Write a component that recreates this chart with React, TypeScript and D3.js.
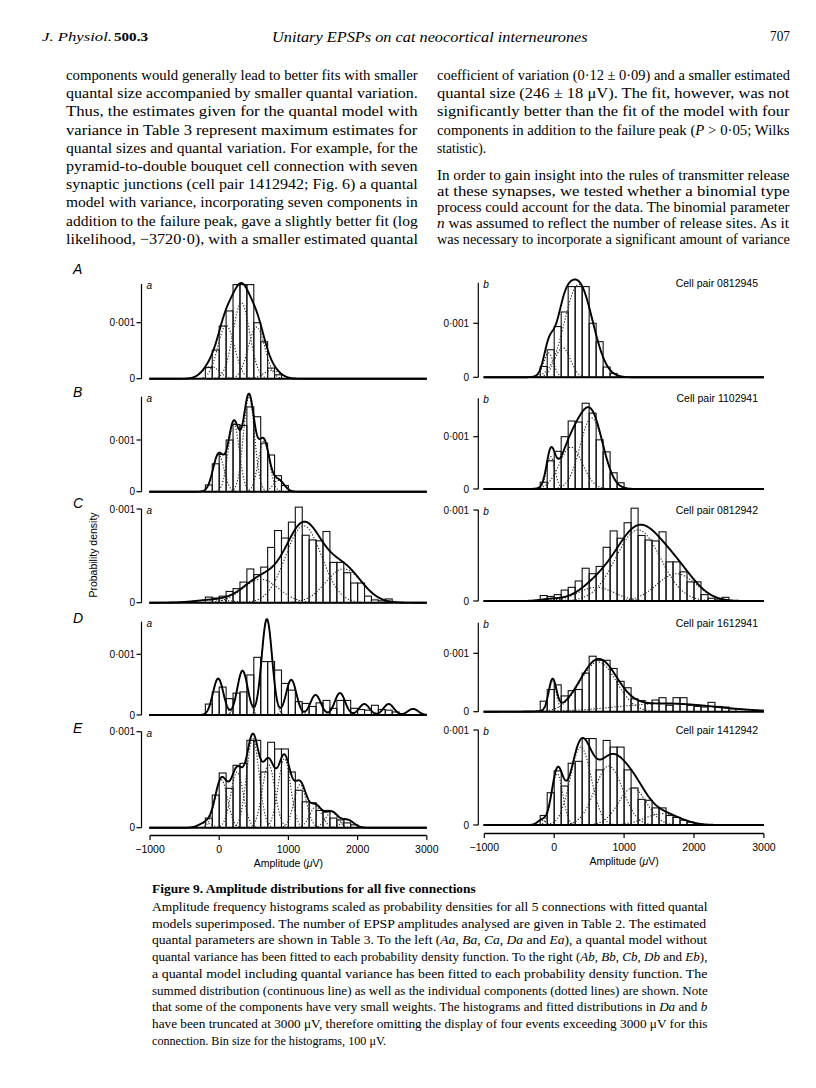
import React from 'react';
import * as d3 from 'd3';

// ---------------- DATA ----------------
const X_DOMAIN = [-1000, 3000];
const X_TICKS = [-1000, 0, 1000, 2000, 3000];
const BIN_WIDTH = 100;

// histogram densities, in units of 0.001 per µV, first bin start given
const HIST_A_START = -200;
const HIST_A = [0.2, 0.51, 0.94, 1.21, 1.68, 1.68, 1.68, 1.0, 0.66, 0.19, 0.07];
const HIST_B_START = -200;
const HIST_B = [0.13, 0.54, 0.72, 1.0, 1.3, 1.28, 1.64, 1.45, 0.94, 0.71, 0.31, 0.12];
const HIST_C_START = -200;
const HIST_C = [0.06, 0.05, 0.07, 0.12, 0.15, 0.22, 0.36, 0.3, 0.38, 0.59, 0.77, 0.69, 0.86, 1.02, 0.72, 0.67, 0.66, 0.76, 0.43, 0.43, 0.32, 0.21, 0.21, 0.07, 0.03, 0.02, 0.04];
const HIST_D_START = -200;
const HIST_D = [0.18, 0.38, 0.46, 0.27, 0.36, 0.38, 0.66, 0.95, 0.88, 0.88, 0.74, 0.52, 0.41, 0.22, 0.19, 0.14, 0.2, 0.24, 0.11, 0.24, 0.24, 0.11, 0.09, 0.08, 0.16, 0.09, 0.08, 0.05];
const HIST_E_START = -200;
const HIST_E = [0.1, 0.34, 0.57, 0.41, 0.65, 0.67, 0.91, 0.91, 0.58, 0.89, 0.82, 0.82, 0.58, 0.39, 0.27, 0.26, 0.18, 0.18, 0.1, 0.08, 0.05, 0.03];

// fitted components: [mean µV, sd µV, weight]
const COMP_AA = [[-120, 120, 0.066], [100, 120, 0.286], [320, 120, 0.409], [540, 120, 0.277], [760, 120, 0.045]];
const COMP_AB = [[-80, 70, 0.079], [120, 110, 0.152], [350, 200, 0.862]];
const COMP_BA = [[-10, 80, 0.144], [210, 80, 0.265], [430, 80, 0.369], [645, 80, 0.196], [860, 80, 0.044]];
const COMP_BB = [[-50, 60, 0.093], [240, 165, 0.331], [535, 165, 0.5625]];
const COMP_CA = [[-80, 260, 0.0196], [600, 260, 0.163], [1220, 260, 0.534], [1800, 260, 0.235]];
const COMP_CB = [[-50, 150, 0.0075], [600, 260, 0.0978], [1200, 320, 0.6257], [1750, 280, 0.2106]];
const COMP_DA = [[-15, 75, 0.113], [337, 75, 0.137], [689, 75, 0.297], [1041, 75, 0.109], [1393, 75, 0.062], [1745, 75, 0.068], [2097, 75, 0.034], [2449, 75, 0.034], [2801, 75, 0.019]];
const COMP_DB = [[-24, 55, 0.0717], [630, 260, 0.554], [1600, 700, 0.2457]];
const COMP_EA = [[-200, 90, 0.0113], [30, 90, 0.1128], [258, 90, 0.1308], [486, 90, 0.2098], [714, 90, 0.1489], [942, 90, 0.1624], [1170, 90, 0.1015], [1398, 90, 0.0496], [1626, 90, 0.0361], [1854, 90, 0.018]];
const COMP_EB = [[-180, 60, 0.0075], [43, 80, 0.1083], [380, 150, 0.3083], [780, 200, 0.3108], [1120, 200, 0.1955], [1550, 250, 0.0752]];

const ROW_LETTERS = ['A', 'B', 'C', 'D', 'E'];
const CELL_PAIRS = ['Cell pair 0812945', 'Cell pair 1102941', 'Cell pair 0812942', 'Cell pair 1612941', 'Cell pair 1412942'];

const LEFT_TEXT = [
  'components would generally lead to better fits with smaller',
  'quantal size accompanied by smaller quantal variation.',
  'Thus, the estimates given for the quantal model with',
  'variance in Table 3 represent maximum estimates for',
  'quantal sizes and quantal variation. For example, for the',
  'pyramid-to-double bouquet cell connection with seven',
  'synaptic junctions (cell pair 1412942; Fig. 6) a quantal',
  'model with variance, incorporating seven components in',
  'addition to the failure peak, gave a slightly better fit (log',
  'likelihood, \u22123720\u00b70), with a smaller estimated quantal',
];
const RIGHT_TEXT_1 = [
  'coefficient of variation (0\u00b712 \u00b1 0\u00b709) and a smaller estimated',
  'quantal size (246 \u00b1 18 \u03bcV). The fit, however, was not',
  'significantly better than the fit of the model with four',
  ['components in addition to the failure peak (', { i: 'P' }, ' > 0\u00b705; Wilks'],
  'statistic).',
];
const RIGHT_TEXT_2 = [
  'In order to gain insight into the rules of transmitter release',
  'at these synapses, we tested whether a binomial type',
  'process could account for the data. The binomial parameter',
  [{ i: 'n' }, ' was assumed to reflect the number of release sites. As it'],
  'was necessary to incorporate a significant amount of variance',
];
const CAPTION_TITLE = 'Figure 9. Amplitude distributions for all five connections';
const CAPTION = [
  'Amplitude frequency histograms scaled as probability densities for all 5 connections with fitted quantal',
  'models superimposed. The number of EPSP amplitudes analysed are given in Table 2. The estimated',
  ['quantal parameters are shown in Table 3. To the left (', { i: 'Aa' }, ', ', { i: 'Ba' }, ', ', { i: 'Ca' }, ', ', { i: 'Da' }, ' and ', { i: 'Ea' }, '), a quantal model without'],
  ['quantal variance has been fitted to each probability density function. To the right (', { i: 'Ab' }, ', ', { i: 'Bb' }, ', ', { i: 'Cb' }, ', ', { i: 'Db' }, ' and ', { i: 'Eb' }, '),'],
  'a quantal model including quantal variance has been fitted to each probability density function. The',
  'summed distribution (continuous line) as well as the individual components (dotted lines) are shown. Note',
  ['that some of the components have very small weights. The histograms and fitted distributions in ', { i: 'Da' }, ' and ', { i: 'b' }],
  'have been truncated at 3000 \u03bcV, therefore omitting the display of four events exceeding 3000 \u03bcV for this',
  'connection. Bin size for the histograms, 100 \u03bcV.',
];

// ---------------- LAYOUT ----------------
const SANS = '"Liberation Sans", Arial, Helvetica, sans-serif';
const SERIF = '"Liberation Serif", "Times New Roman", serif';

const LEFT = { axisX: 141.5, xr: [150, 426.8], labelX: 136 };
const RIGHT = { axisX: 478.3, xr: [484.3, 763.9], labelX: 470 };
const ROWS = [
  { l: { base: 378.7, unit: 56, top: 284 }, r: { base: 377.3, unit: 54, top: 282.7 }, letterY: 274 },
  { l: { base: 491.7, unit: 51.7, top: 396.7 }, r: { base: 489, unit: 52.3, top: 398.3 }, letterY: 397 },
  { l: { base: 602.7, unit: 93.7, top: 509 }, r: { base: 601, unit: 91, top: 510 }, letterY: 508 },
  { l: { base: 715, unit: 60.7, top: 621.7 }, r: { base: 711.7, unit: 58.4, top: 622.7 }, letterY: 623 },
  { l: { base: 827.7, unit: 96, top: 731.7 }, r: { base: 825, unit: 95, top: 730 }, letterY: 733 },
];

const HISTS = [
  [HIST_A_START, HIST_A], [HIST_B_START, HIST_B], [HIST_C_START, HIST_C], [HIST_D_START, HIST_D], [HIST_E_START, HIST_E],
];
const COMPS = [[COMP_AA, COMP_AB], [COMP_BA, COMP_BB], [COMP_CA, COMP_CB], [COMP_DA, COMP_DB], [COMP_EA, COMP_EB]];

const gauss = (x: number, m: number, s: number, w: number) =>
  (w * Math.exp(-0.5 * ((x - m) / s) ** 2)) / (s * Math.sqrt(2 * Math.PI));

let _ctx: CanvasRenderingContext2D | null = null;
function measure(text: string, size: number, italic: boolean, bold: boolean) {
  if (!_ctx) _ctx = document.createElement('canvas').getContext('2d');
  if (!_ctx) return text.length * size * 0.45;
  _ctx.font = `${italic ? 'italic ' : ''}${bold ? 'bold ' : ''}${size}px "Liberation Serif"`;
  return _ctx.measureText(text).width;
}

function Panel({ side, g, hist, comps, sub, cell, bottomAxis }: any) {
  const x = d3.scaleLinear().domain(X_DOMAIN).range(side.xr);
  const y = d3.scaleLinear().domain([0, 0.001]).range([g.base, g.base - g.unit]);
  const xs = d3.range(X_DOMAIN[0], X_DOMAIN[1] + 0.1, 4);
  const sum = xs.map((v) => [v, comps.reduce((a: number, c: number[]) => a + gauss(v, c[0], c[1], c[2]), 0)]);
  const line = d3.line<number[]>().x((d) => x(d[0])).y((d) => y(d[1]));
  const [start, vals] = hist;
  const bw = x(BIN_WIDTH) - x(0);
  const ax = side.axisX;
  return (
    <g>
      {vals.map((v: number, i: number) => (
        <rect key={i} x={x(start + i * BIN_WIDTH)} y={y(v * 0.001)} width={bw} height={g.base - y(v * 0.001)}
          fill="none" stroke="#111" strokeWidth={1.1} />
      ))}
      {comps.map((c: number[], i: number) => {
        const pts = d3.range(Math.max(X_DOMAIN[0], c[0] - 3.2 * c[1]), Math.min(X_DOMAIN[1], c[0] + 3.2 * c[1]), 4)
          .map((v) => [v, gauss(v, c[0], c[1], c[2])]);
        return <path key={i} d={line(pts) || ''} fill="none" stroke="#222" strokeWidth={1.1} strokeDasharray="1.2,1.8" />;
      })}
      <line x1={side.xr[0] - 1} x2={side.xr[1]} y1={g.base} y2={g.base} stroke="#000" strokeWidth={2} />
      <path d={line(sum) || ''} fill="none" stroke="#000" strokeWidth={1.9} strokeLinejoin="round" />
      <line x1={ax} x2={ax} y1={g.base} y2={g.top} stroke="#000" strokeWidth={1.2} />
      <line x1={ax - 5} x2={ax} y1={g.base} y2={g.base} stroke="#000" strokeWidth={1.2} />
      <line x1={ax - 5} x2={ax} y1={y(0.001)} y2={y(0.001)} stroke="#000" strokeWidth={1.2} />
      <text x={side.labelX - 1} y={g.base + 3.5} textAnchor="end" fontFamily={SANS} fontSize={10}>0</text>
      <text x={side.labelX - 1} y={y(0.001) + 3.5} textAnchor="end" fontFamily={SANS} fontSize={10}>0·001</text>
      <text x={ax + 5} y={g.top + 5} fontFamily={SANS} fontSize={10} fontStyle="italic">{sub}</text>
      {cell && <text x={758} y={g.top + 4} textAnchor="end" fontFamily={SANS} fontSize={10.5}>{cell}</text>}
      {bottomAxis && (
        <g>
          <line x1={x(X_DOMAIN[0])} x2={x(X_DOMAIN[1])} y1={bottomAxis} y2={bottomAxis} stroke="#000" strokeWidth={1.3} />
          {X_TICKS.map((t) => (
            <g key={t}>
              <line x1={x(t)} x2={x(t)} y1={bottomAxis} y2={bottomAxis + 4.5} stroke="#000" strokeWidth={1.2} />
              <text x={x(t)} y={bottomAxis + 17} textAnchor="middle" fontFamily={SANS} fontSize={10.5}>
                {t < 0 ? '\u2212' + Math.abs(t) : String(t)}
              </text>
            </g>
          ))}
          <text x={(x(X_DOMAIN[0]) + x(X_DOMAIN[1])) / 2} y={bottomAxis + 31} textAnchor="middle" fontFamily={SANS} fontSize={10.5}>
            Amplitude (<tspan fontStyle="italic">μ</tspan>V)
          </text>
        </g>
      )}
    </g>
  );
}

// one line of page text, condensed horizontally (and justified) with a transform
function Line({ content, x, y, width, size, justify = true, scale = 0.9, bold = false, italic = false, anchor = 'start' }: any) {
  const parts = (Array.isArray(content) ? content : [content]).map((p: any) =>
    typeof p === 'string' ? { t: p, it: italic } : { t: p.i, it: true });
  const natural = parts.reduce((a: number, p: any) => a + measure(p.t, size, p.it, bold), 0);
  const sx = justify ? width / natural : scale;
  const x0 = anchor === 'end' ? x - natural * sx : anchor === 'middle' ? x - (natural * sx) / 2 : x;
  return (
    <text transform={`translate(${x0},${y}) scale(${sx},1)`} fontFamily={SERIF} fontSize={size}
      fontWeight={bold ? 'bold' : 'normal'} style={{ whiteSpace: 'pre' }}>
      {parts.map((p: any, i: number) => (
        <tspan key={i} fontStyle={p.it ? 'italic' : 'normal'}>{p.t}</tspan>
      ))}
    </text>
  );
}

export default function App() {
  return (
    <svg width={816} height={1088} style={{ position: 'absolute', left: 0, top: 0, background: '#fff' }}>
      <rect width={816} height={1088} fill="#fff" />
      {/* header */}
      <Line content={[{ i: 'J. Physiol.' }]} x={42} y={41} width={70} size={12.5} />
      <Line content="500.3" x={114} y={41} width={34} size={12.5} bold />
      <Line content="Unitary EPSPs on cat neocortical interneurones" italic x={272} y={42} width={316} size={15.5} />
      <Line content="707" x={790} y={41} width={23} size={14} anchor="end" justify={false} scale={0.95} />

      {LEFT_TEXT.map((t, i) => <Line key={i} content={t} x={66} y={80 + i * 18.2} width={352} size={15} />)}
      {RIGHT_TEXT_1.map((t, i) => (
        <Line key={i} content={t} x={437} y={80 + i * 18.2} width={353} size={15} justify={i !== 4} />
      ))}
      {RIGHT_TEXT_2.map((t, i) => <Line key={i} content={t} x={437} y={180 + i * 16} width={353} size={15} />)}

      {/* panels */}
      {ROWS.map((row, r) => (
        <g key={r}>
          <text x={73} y={row.letterY} fontFamily={SANS} fontSize={14} fontStyle="italic">{ROW_LETTERS[r]}</text>
          <Panel side={LEFT} g={row.l} hist={HISTS[r]} comps={COMPS[r][0]} sub="a"
            bottomAxis={r === 4 ? 835.5 : null} />
          <Panel side={RIGHT} g={row.r} hist={HISTS[r]} comps={COMPS[r][1]} sub="b" cell={CELL_PAIRS[r]}
            bottomAxis={r === 4 ? 833.5 : null} />
        </g>
      ))}
      <text transform="translate(97,555) rotate(-90)" textAnchor="middle" fontFamily={SANS} fontSize={10.5}>
        Probability density
      </text>

      {/* caption */}
      <Line content={CAPTION_TITLE} x={152} y={893} width={325} size={13.5} bold />
      {CAPTION.map((t, i) => (
        <Line key={i} content={t} x={152} y={911 + i * 16.7} width={556} size={13.5} justify={i !== CAPTION.length - 1} />
      ))}
    </svg>
  );
}
